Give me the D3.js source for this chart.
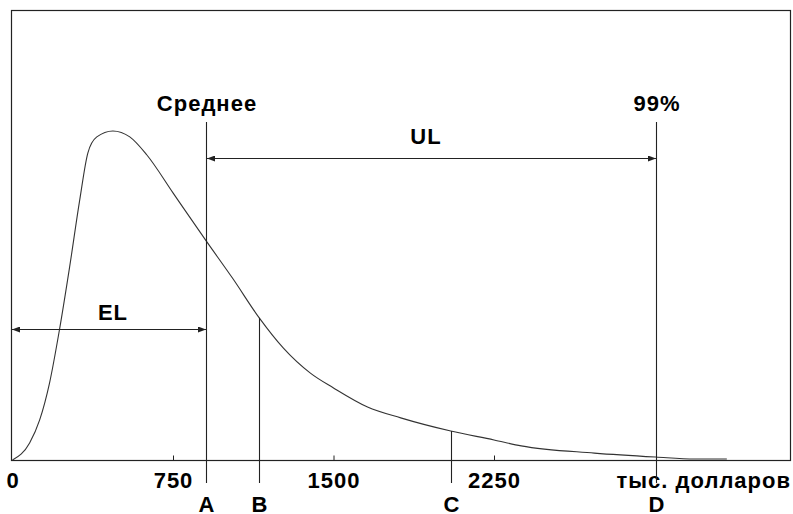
<!DOCTYPE html>
<html>
<head>
<meta charset="utf-8">
<script src="https://cdn.jsdelivr.net/npm/d3@7"></script>
<style>
  body { margin: 0; background: #fff; }
  svg { display: block; }
  text { font-family: "Liberation Sans", Arial, sans-serif; font-weight: bold; font-size: 22px; letter-spacing: 1px; fill: #000; }
</style>
</head>
<body>
<svg id="chart" width="793" height="514"></svg>
<script>
// loss distribution (x in thousands of dollars, density relative to peak = 100)
const lossX   = [0, 80, 127, 173, 220, 267, 314, 352, 394, 469, 548, 628, 750, 905, 1031, 1153, 1266, 1392, 1500, 1659, 1814, 2048, 2250, 2377, 2719, 3005, 3188, 3338]
const density = [0, 5.2, 12.2, 23.4, 39.8, 58.7, 79, 93.3, 98.2, 100, 98.2, 92.7, 81.2, 66.6, 55, 43.2, 34, 26.4, 21.9, 16.1, 12.8, 8.8, 6.1, 4.3, 2.1, 0.9, 0.3, 0.3]

const tickValues = [0, 750, 1500, 2250]
const unitLabel = 'тыс. долларов'

// marker lines under the axis
const markerNames = ['A', 'B', 'C', 'D']
const markerX     = [905, 1153, 2048, 3005]
const markerTall  = [true, false, false, true]     // tall ones reach past the curve
const markerTitle = ['Среднее', null, null, '99%']

// arrows between markers
const spans = [
  { from: 0,   to: 905,  label: 'EL' },
  { from: 905, to: 3005, label: 'UL' }
]

const BOX = { left: 11, top: 10, right: 790, bottom: 460 }
const MARK_TOP = 122, MARK_BOTTOM = 483
const SPAN_Y = { EL: 329.5, UL: 158.5 }
const SPAN_LABEL = { EL: [113, 320], UL: [426, 144] }

const svg = d3.select('#chart')

const x = d3.scaleLinear().domain([0, 2250]).range([12.5, 494])
const y = d3.scaleLinear().domain([0, 100]).range([BOX.bottom, 131])

const pts = lossX.map((v, i) => [v, density[i]])

function densityAt(v) {
  let i = d3.bisector((d) => d[0]).left(pts, v)
  if (i <= 0) return pts[0][1]
  if (i >= pts.length) return pts[pts.length - 1][1]
  let a = pts[i - 1], b = pts[i]
  return a[1] + (b[1] - a[1]) * (v - a[0]) / (b[0] - a[0])
}

// arrowheads
const defs = svg.append('defs')
;['start', 'end'].forEach((k) => {
  defs.append('marker')
    .attr('id', 'arr-' + k)
    .attr('viewBox', '0 0 8 6')
    .attr('refX', k === 'end' ? 8 : 0).attr('refY', 3)
    .attr('markerWidth', 8).attr('markerHeight', 6)
    .attr('markerUnits', 'userSpaceOnUse')
    .attr('orient', 'auto')
    .append('path')
      .attr('d', k === 'end' ? 'M0,0L8,3L0,6Z' : 'M8,0L0,3L8,6Z')
      .attr('fill', '#222')
})

// frame
svg.append('rect')
  .attr('x', BOX.left + 0.5).attr('y', BOX.top + 0.5)
  .attr('width', BOX.right - BOX.left).attr('height', BOX.bottom - BOX.top)
  .attr('fill', 'none').attr('stroke', '#222').attr('stroke-width', 1.2)

// axis: small ticks pointing up, labels below
const axis = svg.append('g')
  .attr('transform', 'translate(0,' + (BOX.bottom + 0.5) + ')')
  .call(d3.axisBottom(x).tickValues(tickValues).tickSizeInner(-5).tickSizeOuter(0).tickFormat(d3.format('d')))
axis.select('.domain').remove()
axis.selectAll('.tick line').attr('stroke', '#222')
axis.selectAll('.tick text')
  .attr('y', 27.5).attr('dy', null)
  .style('font-size', '22px').style('font-family', '"Liberation Sans", Arial, sans-serif')
  .style('font-weight', 'bold').style('letter-spacing', '1px')
  .attr('fill', '#000')
axis.selectAll('.tick').filter((d) => d === 0).select('line').remove()

svg.append('text')
  .attr('x', BOX.right + 1).attr('y', 488)
  .attr('text-anchor', 'end')
  .text(unitLabel)

// curve
svg.append('path')
  .datum(pts)
  .attr('fill', 'none')
  .attr('stroke', '#333')
  .attr('stroke-width', 1.1)
  .attr('d', d3.line().x((d) => x(d[0])).y((d) => y(d[1])).curve(d3.curveMonotoneX))

// marker lines and letters
markerNames.forEach((name, i) => {
  let px = Math.round(x(markerX[i])) + 0.5
  let top = markerTall[i] ? MARK_TOP : y(densityAt(markerX[i]))
  svg.append('line')
    .attr('x1', px).attr('x2', px)
    .attr('y1', top).attr('y2', MARK_BOTTOM)
    .attr('stroke', '#222').attr('stroke-width', 1.1)
  svg.append('text')
    .attr('x', px + 0.5).attr('y', 512)
    .attr('text-anchor', 'middle')
    .text(name)
  if (markerTitle[i]) {
    svg.append('text')
      .attr('x', px + 0.5).attr('y', 111)
      .attr('text-anchor', 'middle')
      .text(markerTitle[i])
  }
})

// EL / UL spans
spans.forEach((s) => {
  let x1 = s.from === 0 ? BOX.left + 1 : Math.round(x(s.from)) + 1
  let x2 = Math.round(x(s.to))
  let yy = SPAN_Y[s.label]
  svg.append('line')
    .attr('x1', x1).attr('x2', x2)
    .attr('y1', yy).attr('y2', yy)
    .attr('stroke', '#222').attr('stroke-width', 1.2)
    .attr('marker-start', 'url(#arr-start)')
    .attr('marker-end', 'url(#arr-end)')
  svg.append('text')
    .attr('x', SPAN_LABEL[s.label][0]).attr('y', SPAN_LABEL[s.label][1])
    .attr('text-anchor', 'middle')
    .text(s.label)
})
</script>
</body>
</html>
